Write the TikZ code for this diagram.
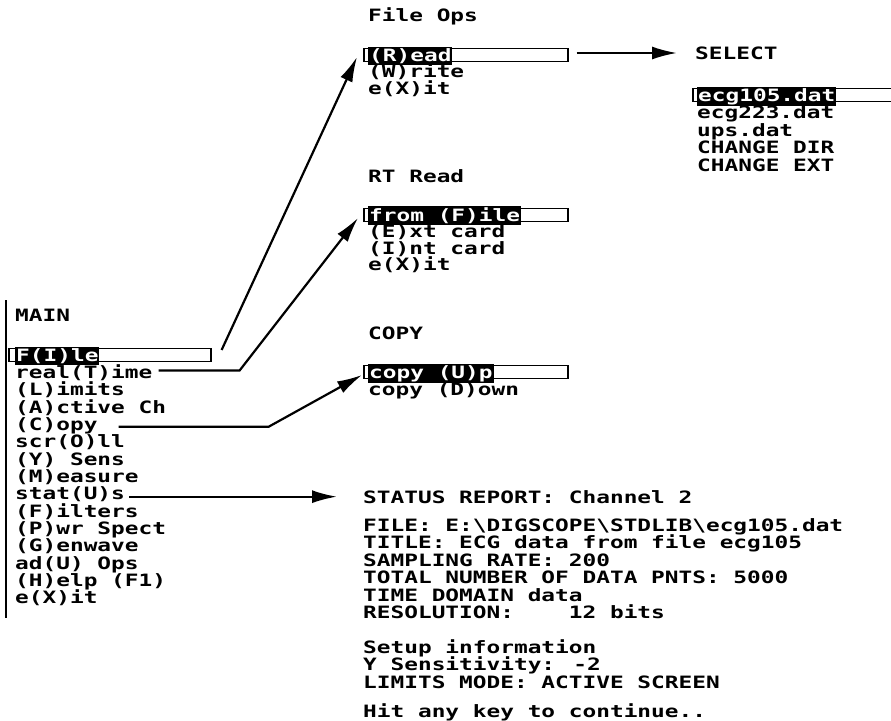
\documentclass[tikz,border=0pt]{standalone}
\usepackage{fontspec}
\newfontfamily\pxfont[FakeStretch=1.34]{DejaVu Sans Mono Bold}
\usetikzlibrary{arrows.meta,calc}
\begin{document}
\begin{tikzpicture}[x=1pt,y=-1pt,
  txt/.style={anchor=base west,inner sep=0pt,font=\pxfont\fontsize{17}{17}\selectfont},
  inv/.style={txt,fill=black,text=white,inner xsep=1pt,inner ysep=1.5pt},
  hbox/.style={draw,line width=1.6pt,anchor=west,minimum height=13pt,inner sep=0pt},
  conn/.style={line width=2.2pt,-{Latex[length=25pt,width=13pt]}}]
\useasboundingbox (0,0) rectangle (891,720);
% main menu
\draw[line width=2pt] (6,300) -- (6,618);
\node[txt] (main) at (15,321) {MAIN};
\node[hbox,minimum width=202pt] (mainbox) at (8,355) {};
\node[inv] (mF) at (15,361) {F(I)le};
\foreach \t [count=\i] in {real(T)ime,(L)imits,(A)ctive Ch,(C)opy,scr(O)ll,(Y) Sens,(M)easure,stat(U)s,(F)ilters,(P)wr Spect,(G)enwave,ad(U) Ops,(H)elp (F1),e(X)it}
  \node[txt] (m\i) at (15,{361+\i*17.35}) {\t};
% File Ops
\node[txt] (fo) at (368,21) {File Ops};
\node[hbox,minimum width=204pt] (readbox) at (363,55) {};
\node[inv] (fo1) at (368,61) {(R)ead};
\node[txt] (fo2) at (368,77.5) {(W)rite};
\node[txt] (fo3) at (368,94) {e(X)it};
% SELECT
\node[txt] (sel) at (695,59) {SELECT};
\node[hbox,minimum width=200pt] (selbox) at (692,95) {};
\node[inv] (s1) at (697,101) {ecg105.dat};
\node[txt] (s2) at (697,118.5) {ecg223.dat};
\node[txt] (s3) at (697,136) {ups.dat};
\node[txt] (s4) at (697,153.5) {CHANGE DIR};
\node[txt] (s5) at (697,171) {CHANGE EXT};
% RT Read
\node[txt] (rt) at (368,182) {RT Read};
\node[hbox,minimum width=204pt] (ftbox) at (363,215) {};
\node[inv] (rt1) at (368,221) {from (F)ile};
\node[txt] (rt2) at (368,237.5) {(E)xt card};
\node[txt] (rt3) at (368,254) {(I)nt card};
\node[txt] (rt4) at (368,270.5) {e(X)it};
% COPY
\node[txt] (cp) at (368,339) {COPY};
\node[hbox,minimum width=204pt] (cubox) at (363,372) {};
\node[inv] (cp1) at (368,378) {copy (U)p};
\node[txt] (cp2) at (368,395) {copy (D)own};
% STATUS
\node[txt] (st) at (363,503) {STATUS REPORT: Channel 2};
\node[txt] (st1) at (363,531) {FILE: E:\textbackslash DIGSCOPE\textbackslash STDLIB\textbackslash ecg105.dat};
\node[txt] (st2) at (363,548.5) {TITLE: ECG data from file ecg105};
\node[txt] (st3) at (363,566) {SAMPLING RATE: 200};
\node[txt] (st4) at (363,583.5) {TOTAL NUMBER OF DATA PNTS: 5000};
\node[txt] (st5) at (363,601) {TIME DOMAIN data};
\node[txt] (st6) at (363,618.5) {RESOLUTION:\ \ \ \ 12 bits};
\node[txt] (st7) at (363,653) {Setup information};
\node[txt] (st8) at (363,670.5) {Y Sensitivity: -2};
\node[txt] (st9) at (363,688) {LIMITS MODE: ACTIVE SCREEN};
\node[txt] (st10) at (363,717) {Hit any key to continue..};
% connectors
\coordinate (c4s) at ($(m8.east)+(4,0)$);
\coordinate (c4e) at ($(st.west)+(-26,0)$);
\coordinate (c5s) at ($(readbox.east)+(8,-2)$);
\coordinate (c5e) at ($(sel.west)+(-18,0)$);
\draw[conn] ($(mainbox.east)+(10,-5)$) -- ($(readbox.west)+(-6,2)$);
\draw[conn] ($(m1.east)+(6,-2)$) -- ++(81,0) -- ($(ftbox.west)+(-5,3)$);
\draw[conn] ($(m4.east)+(21,1)$) -- ++(150,0) -- ($(cubox.west)+(-1,3)$);
\draw[conn] (c4s |- c4e) -- (c4e);
\draw[conn] (c5s) -- (c5e |- c5s);
\end{tikzpicture}
\end{document}
